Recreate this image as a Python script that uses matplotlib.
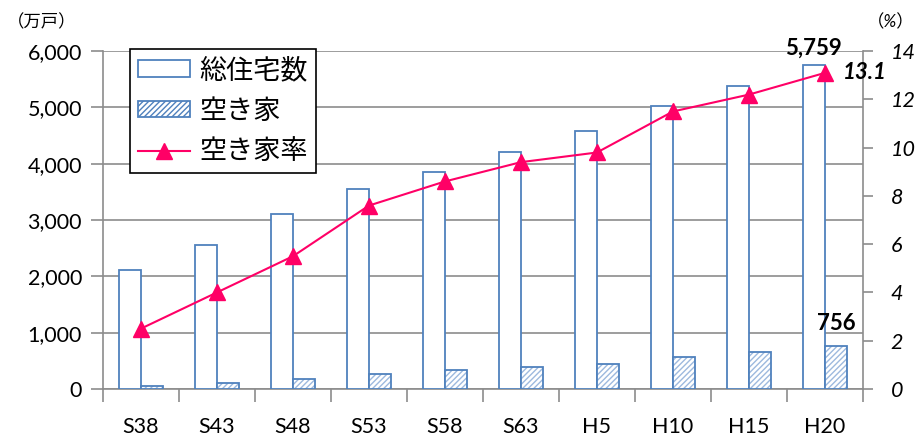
import numpy as np
import matplotlib
matplotlib.use('Agg')
import matplotlib.pyplot as plt
from matplotlib.ticker import FuncFormatter

plt.rcParams['font.family'] = ['Lato', 'Noto Sans CJK JP', 'DejaVu Sans']

# housing survey years
years = ['S38', 'S43', 'S48', 'S53', 'S58', 'S63', 'H5', 'H10', 'H15', 'H20']
total_houses = [2109, 2559, 3106, 3545, 3861, 4201, 4588, 5025, 5389, 5759]   # 万戸
vacant_houses = [52, 103, 172, 268, 330, 394, 448, 576, 659, 756]             # 万戸
vacancy_rate = [2.5, 4.0, 5.5, 7.6, 8.6, 9.4, 9.8, 11.5, 12.2, 13.1]          # %

blue = '#4F81BD'
hatch_blue = '#9DB9DE'
pink = '#FF0066'
grid_gray = '#8C8C8C'

fig = plt.figure(figsize=(9.19, 4.41), dpi=100)
ax = fig.add_axes([0.112, 0.118, 0.827, 0.766])
ax2 = ax.twinx()

x = np.arange(len(years))
w = 0.29

ax.bar(x - w / 2, total_houses, w, facecolor='white', edgecolor=blue, linewidth=1.3,
       label='総住宅数', zorder=3)
# hatch drawn in a lighter blue, outline on top
plt.rcParams['hatch.linewidth'] = 1.0
ax.bar(x + w / 2, vacant_houses, w, facecolor='white', edgecolor=hatch_blue, hatch='//////',
       linewidth=0, zorder=3)
ax.bar(x + w / 2, vacant_houses, w, facecolor='none', edgecolor=blue, linewidth=1.3, zorder=3)
vac_proxy = plt.Rectangle((0, 0), 1, 1, facecolor='white', edgecolor=blue, hatch='//////',
                          linewidth=1.3)

line, = ax2.plot(x, vacancy_rate, color=pink, linewidth=1.5, marker='^', markersize=11,
                 label='空き家率', zorder=5)

ax.set_xlim(-0.5, len(years) - 0.5)
ax.set_ylim(0, 6000)
ax.set_yticks(np.arange(0, 6001, 1000))
ax.yaxis.set_major_formatter(FuncFormatter(lambda v, p: f'{int(v):,}'))
ax2.set_ylim(0, 14)
ax2.set_yticks(np.arange(0, 15, 2))

ax.set_xticks(x)
ax.set_xticklabels(years, fontsize=15.5)
ax.tick_params(axis='x', length=0, pad=20)
ax.set_xticks(np.arange(-0.5, len(years), 1), minor=True)
ax.tick_params(axis='x', which='minor', length=9, color=grid_gray, width=1.2)
ax.tick_params(axis='y', labelsize=15.5, length=9, color=grid_gray, width=1.2, pad=6)
ax2.tick_params(axis='y', labelsize=15.5, length=7, color=grid_gray, width=1.2, pad=13)
for t in ax2.get_yticklabels():
    t.set_style('italic')

ax.grid(axis='y', color=grid_gray, linewidth=1.2, zorder=0)
for a in (ax, ax2):
    for side in ('top', 'right', 'left', 'bottom'):
        a.spines[side].set_visible(False)
ax.spines['left'].set_visible(True)
ax.spines['left'].set_color(grid_gray)
ax.spines['left'].set_linewidth(1.2)
ax.spines['bottom'].set_visible(True)
ax.spines['bottom'].set_color(grid_gray)
ax.spines['bottom'].set_linewidth(1.2)
ax2.spines['right'].set_visible(True)
ax2.spines['right'].set_color(grid_gray)
ax2.spines['right'].set_linewidth(1.2)

ax.set_zorder(ax2.get_zorder() - 1)
ax.patch.set_visible(True)
ax2.patch.set_visible(False)

# value labels for the latest year
last = len(years) - 1
ax.text(x[last] - w / 2, total_houses[last] + 100, f'{total_houses[last]:,}',
        ha='center', va='bottom', fontsize=16, fontweight='bold')
ax.text(x[last] + w / 2, vacant_houses[last] + 220, f'{vacant_houses[last]}',
        ha='center', va='bottom', fontsize=16, fontweight='bold')
ax2.text(x[last] + 0.24, vacancy_rate[last], f'{vacancy_rate[last]}',
         ha='left', va='center', fontsize=16, fontweight='bold', style='italic')

fig.text(0.008, 0.95, '（万戸）', fontsize=12.5, ha='left', va='center')
fig.text(0.943, 0.95, '（%）', fontsize=12.5, ha='left', va='center', style='italic')

bar_handle = ax.patches[0]
leg = ax2.legend([bar_handle, vac_proxy, line], ['総住宅数', '空き家', '空き家率'],
                 loc='upper left', bbox_to_anchor=(0.036, 1.006), fontsize=19.5,
                 frameon=True, fancybox=False, edgecolor='black', framealpha=1,
                 handlelength=1.9, handleheight=0.55, labelspacing=0.58,
                 borderpad=0.3, handletextpad=0.35, borderaxespad=0)
leg.get_frame().set_linewidth(1.2)

fig.savefig('out.png', dpi=100)
